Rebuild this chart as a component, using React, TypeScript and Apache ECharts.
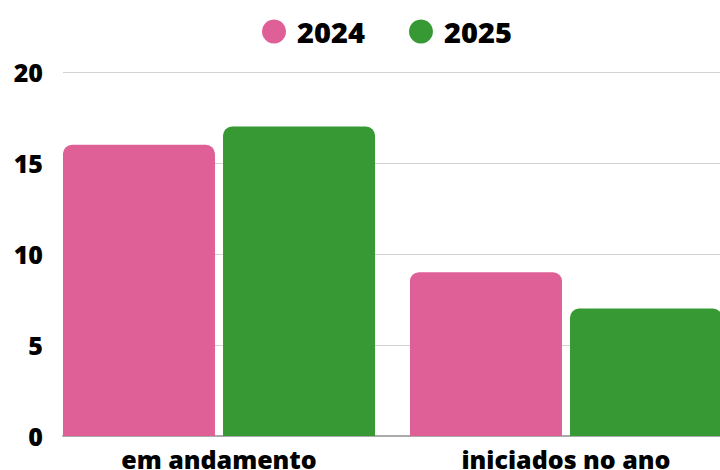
import React, { useEffect, useRef } from "react";
import * as echarts from "echarts";

const categories = ["em andamento", "iniciados no ano"];
const seriesNames = ["2024", "2025"];
const values2024 = [16, 9];
const values2025 = [17, 7];
const colors = ["#DF5F97", "#369934"];
const FONT = "Open Sans";

export default function App() {
  const ref = useRef<HTMLDivElement>(null);
  useEffect(() => {
    if (!ref.current) return;
    const chart = echarts.init(ref.current, null, { renderer: "svg" });
    chart.setOption({
      animation: false,
      color: colors,
      legend: {
        top: 12,
        left: 257,
        icon: "circle",
        itemWidth: 24,
        itemHeight: 24,
        itemGap: 44,
        textStyle: { fontFamily: FONT, fontWeight: 800, fontSize: 29, color: "#000", padding: [0, 0, 0, 6] },
        data: seriesNames,
      },
      grid: [
        { left: 63, width: 657, top: 72, height: 364, containLabel: false, outerBoundsMode: "none" },
        { left: 45.5, width: 694, top: 72, height: 364, containLabel: false, outerBoundsMode: "none" },
      ],
      xAxis: [
        {
          type: "category",
          gridIndex: 0,
          data: categories,
          axisLine: { show: true, lineStyle: { color: "#aaaaaa", width: 2 } },
          axisTick: { show: false },
          axisLabel: { show: false },
        },
        {
          type: "category",
          gridIndex: 1,
          data: categories,
          axisLine: { show: false },
          axisTick: { show: false },
          axisLabel: { fontFamily: FONT, fontWeight: 800, fontSize: 25, color: "#000", margin: 10 },
        },
      ],
      yAxis: [
        {
          type: "value",
          gridIndex: 0,
          min: 0,
          max: 20,
          interval: 5,
          axisLine: { show: false },
          axisTick: { show: false },
          axisLabel: { fontFamily: FONT, fontWeight: 800, fontSize: 25, color: "#000", margin: 20 },
          splitLine: { lineStyle: { color: "#d3d3d3", width: 1 } },
        },
        {
          type: "value",
          gridIndex: 1,
          min: 0,
          max: 20,
          interval: 5,
          show: false,
          splitLine: { show: false },
        },
      ],
      series: [
        {
          name: seriesNames[0],
          type: "bar",
          xAxisIndex: 1,
          yAxisIndex: 1,
          data: values2024,
          barWidth: 152,
          barGap: "5.3%",
          itemStyle: { color: colors[0], borderRadius: [9, 9, 0, 0] },
        },
        {
          name: seriesNames[1],
          type: "bar",
          xAxisIndex: 1,
          yAxisIndex: 1,
          data: values2025,
          barWidth: 152,
          barGap: "5.3%",
          itemStyle: { color: colors[1], borderRadius: [9, 9, 0, 0] },
        },
      ],
    });
    return () => chart.dispose();
  }, []);
  return (
    <div
      ref={ref}
      style={{ position: "fixed", left: 0, top: 0, width: 720, height: 470, background: "#fff" }}
    />
  );
}
